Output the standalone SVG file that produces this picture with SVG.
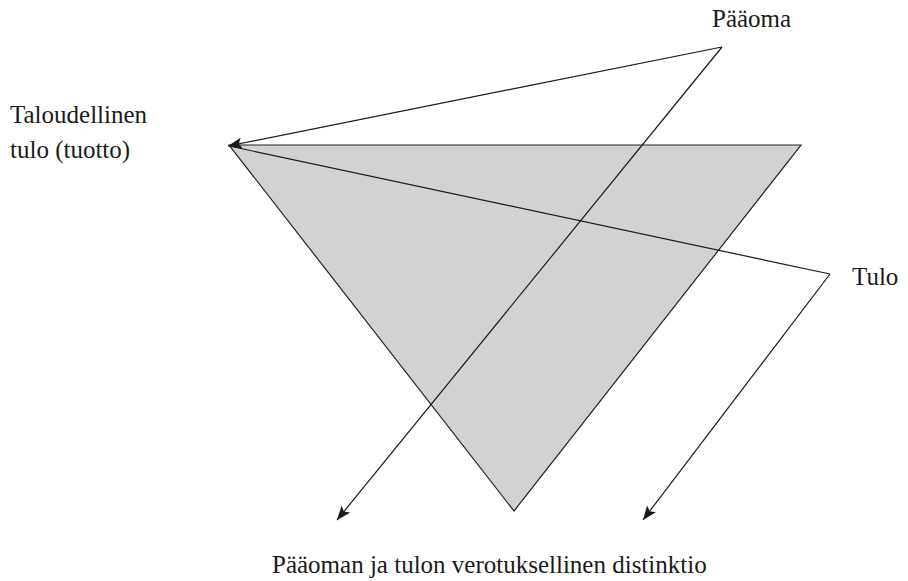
<svg xmlns="http://www.w3.org/2000/svg" width="908" height="581" viewBox="0 0 908 581">
  <style>
    .label { font-family: "Liberation Serif", "Times New Roman", serif; font-size: 25px; fill: #1a1a1a; }
    .link { fill: none; stroke: #1a1a1a; stroke-width: 1.2; }
  </style>
  <defs>
    <marker id="arrow" markerUnits="userSpaceOnUse" markerWidth="15" markerHeight="12" refX="14" refY="6" orient="auto">
      <path d="M0,0.5 L14,6 L0,11.5 L3,6 z" fill="#1a1a1a"/>
    </marker>
  </defs>
  <rect width="908" height="581" fill="#ffffff"/>

  <!-- shaded triangle -->
  <g id="triangle">
    <polygon points="229,145 801,145 514,511" fill="#d1d2d4" stroke="#231f20" stroke-width="1.2" stroke-linejoin="miter"/>
  </g>

  <!-- connectors -->
  <g id="connectors">
    <path class="link" d="M722,47 L228,146" marker-end="url(#arrow)"/>
    <path class="link" d="M722,47 L337,520" marker-end="url(#arrow)"/>
    <path class="link" d="M830,274 L229,146"/>
    <path class="link" d="M830,274 L643,520" marker-end="url(#arrow)"/>
  </g>

  <!-- labels -->
  <g id="paaoma">
    <text class="label" x="712" y="27">Pääoma</text>
  </g>
  <g id="taloudellinen-tulo">
    <text class="label" x="10" y="123">Taloudellinen</text>
    <text class="label" x="10" y="158">tulo (tuotto)</text>
  </g>
  <g id="tulo">
    <text class="label" x="852" y="285">Tulo</text>
  </g>
  <g id="distinktio">
    <text class="label" x="272" y="573">Pääoman ja tulon verotuksellinen distinktio</text>
  </g>
</svg>
